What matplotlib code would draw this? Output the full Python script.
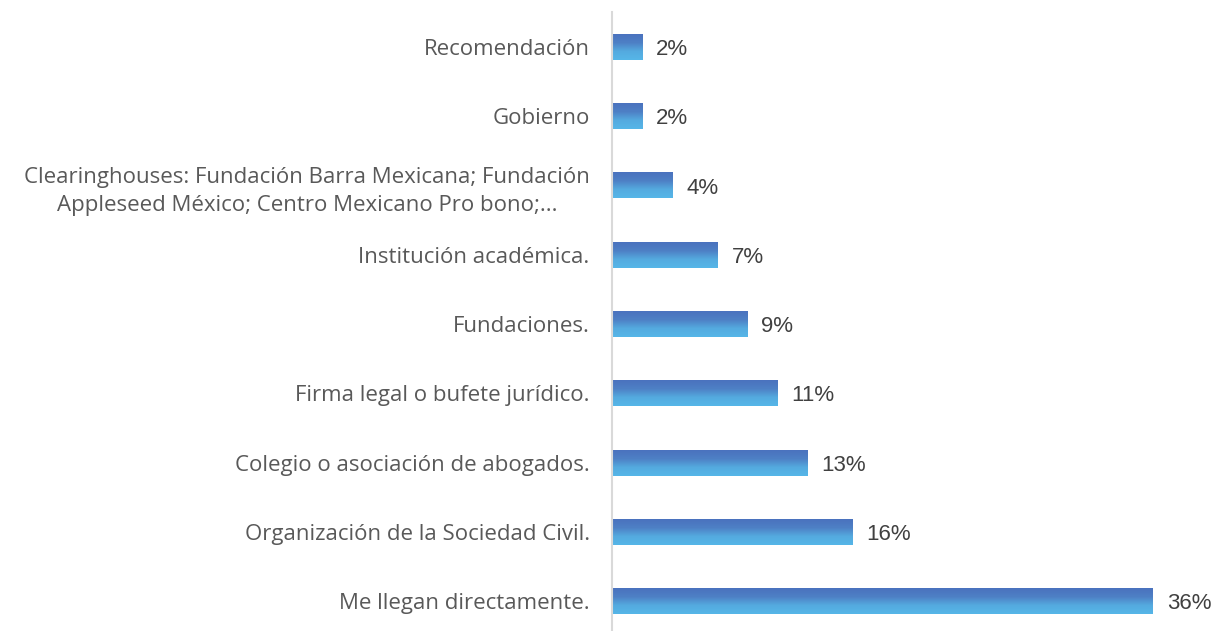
import numpy as np
import matplotlib.pyplot as plt
from matplotlib.colors import LinearSegmentedColormap

# categories listed top to bottom, with their shares in percent
labels = [
    "Recomendación",
    "Gobierno",
    "Clearinghouses: Fundación Barra Mexicana; Fundación\nAppleseed México; Centro Mexicano Pro bono;...",
    "Institución académica.",
    "Fundaciones.",
    "Firma legal o bufete jurídico.",
    "Colegio o asociación de abogados.",
    "Organización de la Sociedad Civil.",
    "Me llegan directamente.",
]
values = [2, 2, 4, 7, 9, 11, 13, 16, 36]

fig = plt.figure(figsize=(12.2, 6.31), dpi=100)
ax = fig.add_axes([0.5016, -0.0074, 0.4926, 0.9878])

y = np.arange(len(labels))
bars = ax.barh(y, values, height=0.375, color="none", edgecolor="none")

# vertical gradient from dark blue (top) to light blue (bottom)
cmap = LinearSegmentedColormap.from_list("bar", ["#4A72BE", "#4E80C5", "#54AADF", "#56B6E8"])
grad = np.linspace(0, 1, 64).reshape(-1, 1)
for b in bars:
    x0, y0, w, h = b.get_x(), b.get_y(), b.get_width(), b.get_height()
    ax.imshow(grad, cmap=cmap, aspect="auto", extent=(x0, x0 + w, y0 + h, y0),
              origin="upper", zorder=2)

for yi, v in zip(y, values):
    ax.text(v + 0.95, yi, f"{v}%", va="center_baseline", ha="left", fontsize=16,
            color="#404040", family="Liberation Sans")

ax.set_xlim(0, 40)
ax.set_ylim(len(labels) - 0.5, -0.5)
ax.set_yticks(y)
ax.set_yticklabels(labels, fontsize=16, color="#595959", family="Open Sans",
                   linespacing=1.45, multialignment="center")
ax.tick_params(axis="y", length=0, pad=16)
ax.set_xticks([])
for s in ["top", "right", "bottom"]:
    ax.spines[s].set_visible(False)
ax.spines["left"].set_color("#D9D9D9")
ax.spines["left"].set_linewidth(1.5)

fig.savefig("out.png", dpi=100)
